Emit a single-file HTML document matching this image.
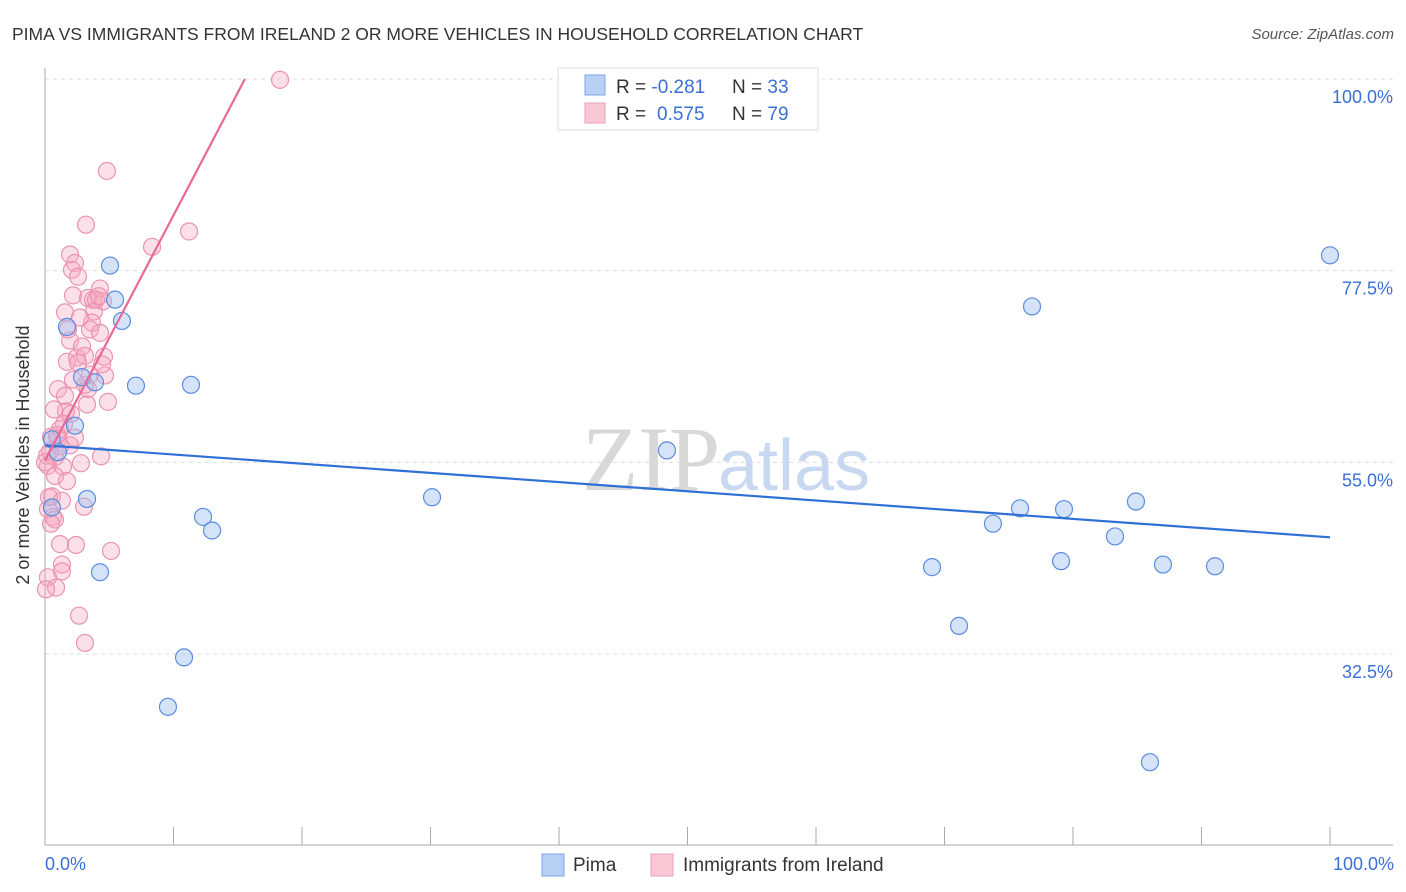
<!DOCTYPE html>
<html><head><meta charset="utf-8"><style>
body{margin:0;background:#fff;font-family:"Liberation Sans",sans-serif}
svg{display:block}
</style></head><body>
<svg id="chart" width="1406" height="892">
<text x="12" y="40" font-size="17.5" fill="#333">PIMA VS IMMIGRANTS FROM IRELAND 2 OR MORE VEHICLES IN HOUSEHOLD CORRELATION CHART</text>
<text x="1394" y="39" font-size="15" fill="#555" font-style="italic" text-anchor="end">Source: ZipAtlas.com</text>
<g id="grid"></g>
<text x="720" y="490" font-size="92" fill="#d8d8d8" text-anchor="end" font-family="Liberation Serif">ZIP</text>
<text x="718" y="490" font-size="72" fill="#c8d8f0">atlas</text>
<g id="marks"></g>
<text x="29" y="455" font-size="18" fill="#333" text-anchor="middle" transform="rotate(-90 29 455)">2 or more Vehicles in Household</text>
<text x="45" y="870" font-size="18" fill="#3a6fd8">0.0%</text>
<text x="1394" y="870" font-size="18" fill="#3a6fd8" text-anchor="end">100.0%</text>
<g>
<rect x="558" y="68" width="260" height="62" fill="#fff" stroke="#ddd"/>
<rect x="585" y="75" width="20" height="20" fill="#b8d0f4" stroke="#7aa4e4"/>
<rect x="585" y="103" width="20" height="20" fill="#f8c8d6" stroke="#eba0b8"/>
<text x="616" y="93" font-size="19" fill="#333">R = <tspan fill="#3a6fd8">-0.281</tspan></text>
<text x="732" y="93" font-size="19" fill="#333">N = <tspan fill="#3a6fd8">33</tspan></text>
<text x="616" y="120" font-size="19" fill="#333">R = <tspan fill="#3a6fd8" x="657">0.575</tspan></text>
<text x="732" y="120" font-size="19" fill="#333">N = <tspan fill="#3a6fd8">79</tspan></text>
</g>
<g>
<rect x="542" y="854" width="22" height="22" fill="#b8d0f4" stroke="#7aa4e4"/>
<text x="573" y="871" font-size="19" fill="#333">Pima</text>
<rect x="651" y="854" width="22" height="22" fill="#f8c8d6" stroke="#eba0b8"/>
<text x="683" y="871" font-size="19" fill="#333">Immigrants from Ireland</text>
</g>
</svg>
<script>
const yTicks=[100,77.5,55,32.5];
const yTickLabels=["100.0%","77.5%","55.0%","32.5%"];
const xTicks=[0,10,20,30,40,50,60,70,80,90,100];
const pimaX=[5.06,5.45,5.99,1.71,2.88,3.89,7.08,11.36,2.33,1.01,0.54,0.54,3.27,4.28,10.82,9.57,12.30,13.00,30.12,48.40,69.03,71.13,73.77,75.88,76.81,79.30,79.07,83.27,84.90,87.00,91.05,85.99,100];
const pimaY=[78.1,74.1,71.6,70.9,65.0,64.4,64.0,64.1,59.3,56.2,57.7,49.7,50.7,42.1,32.1,26.3,48.6,47.0,50.9,56.4,42.7,35.8,47.8,49.6,73.3,49.5,43.4,46.3,50.4,43.0,42.8,19.8,79.3];
const irelandX=[18.29,4.82,3.19,11.21,8.33,1.95,2.33,2.10,2.57,4.28,3.35,3.74,4.51,2.18,1.56,3.81,3.66,3.50,4.28,1.95,2.88,4.59,2.49,3.11,1.71,4.67,2.18,3.35,1.01,3.11,4.90,1.63,2.02,3.27,1.48,1.17,0.47,1.01,1.95,0.16,0.78,4.36,2.80,0.23,1.40,0.78,1.71,0.54,1.32,3.04,0.23,0.62,0.78,0.47,1.17,2.41,5.14,1.32,1.32,0.23,0.86,2.65,3.11,0,0.39,1.17,1.56,2.57,0.70,1.79,3.97,0.31,0.93,2.33,3.50,4.44,0.08,2.72,4.20];
const irelandY=[99.9,89.2,82.9,82.1,80.3,79.4,78.4,77.6,76.8,75.4,74.3,74.1,73.9,74.6,72.6,72.7,71.4,70.6,70.2,69.3,68.6,67.4,67.3,67.5,66.8,65.2,64.7,63.6,63.6,64.1,62.1,61.0,60.7,61.8,59.5,58.9,58.0,57.7,57.0,55.8,55.6,55.7,54.9,54.6,54.5,53.4,52.8,51.0,50.5,49.8,49.5,48.6,48.3,47.8,45.4,45.3,44.6,43.0,42.2,41.5,40.3,37.0,33.8,55.0,56.3,56.9,62.8,66.7,61.2,70.6,74.1,50.9,58.2,57.9,65.3,66.5,40.1,72.0,74.5];
const pimaTrend=[57.0,46.2];      // y at x=0, y at x=100
const irelandTrend=[55.2,2.88];   // intercept, slope
const NS="http://www.w3.org/2000/svg";
const L=45,R=1330,T=79,B=654;
const sx=v=>L+(R-L)*v/100;
const sy=v=>T+(B-T)*(100-v)/(100-32.5);
function mk(tag,attrs,parent){const e=document.createElementNS(NS,tag);for(const k in attrs)e.setAttribute(k,attrs[k]);parent.appendChild(e);return e;}
const grid=document.getElementById('grid'),marks=document.getElementById('marks');
yTicks.forEach((t,i)=>{
 const g=mk('line',{x1:L,x2:1393,y1:sy(t),y2:sy(t),stroke:'#ddd','stroke-dasharray':'4 4'},grid);
 
 
 const lb=mk('text',{x:1393,y:sy(t)+24,'font-size':18,fill:'#3a6fd8','text-anchor':'end'},grid);
 lb.textContent=yTickLabels[i];
 
 
});
const ax=mk('line',{x1:L,x2:L,y1:68,y2:845,stroke:'#aaa'},grid);


const bx=mk('line',{x1:L,x2:1393,y1:845,y2:845,stroke:'#aaa'},grid);


xTicks.forEach(t=>{
 const tk=mk('line',{x1:sx(t),x2:sx(t),y1:827,y2:845,stroke:'#aaa'},grid);
 
 
});
irelandX.forEach((x,i)=>{
 const c=mk('circle',{cx:sx(x),cy:sy(irelandY[i]),r:8.5,fill:'rgba(245,165,192,0.35)',stroke:'#eb93b0','stroke-width':1.2},marks);
 
 
});
pimaX.forEach((x,i)=>{
 const c=mk('circle',{cx:sx(x),cy:sy(pimaY[i]),r:8.5,fill:'rgba(160,192,240,0.45)',stroke:'#5a8de0','stroke-width':1.2},marks);
 
 
});
const bl=mk('line',{x1:sx(0),y1:sy(pimaTrend[0]),x2:sx(100),y2:sy(pimaTrend[1]),stroke:'#2f6fd6','stroke-width':2.2},marks);


const xEnd=(100-irelandTrend[0])/irelandTrend[1];
const pl=mk('line',{x1:sx(0),y1:sy(irelandTrend[0]),x2:sx(xEnd),y2:sy(100),stroke:'#e8689a','stroke-width':2.2},marks);


</script>
</body></html>
